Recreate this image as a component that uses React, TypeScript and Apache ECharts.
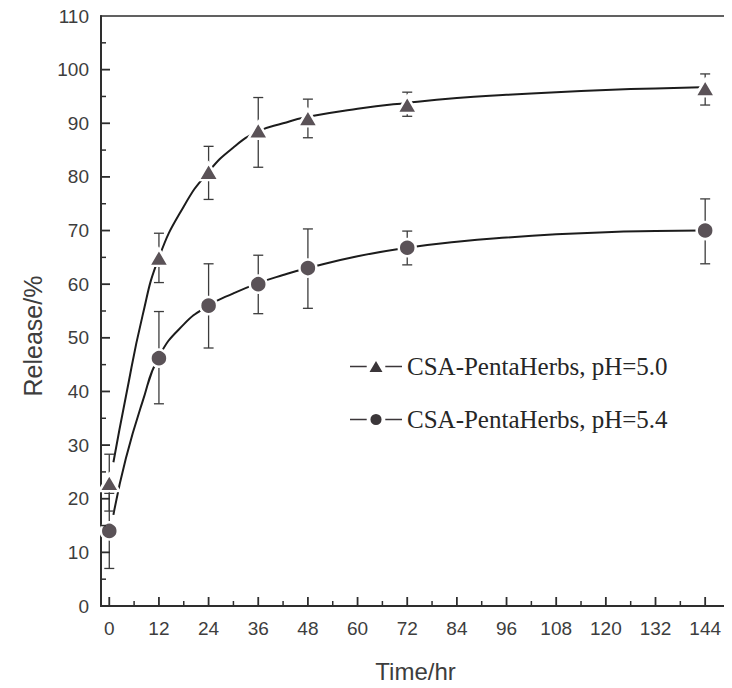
import React, { useEffect, useRef } from "react";
import * as echarts from "echarts";

// Measured points (time in hr, release in %)
const times = [0, 12, 24, 36, 48, 72, 144];
const ph50Mean = [23, 65, 81, 88.7, 91, 93.5, 96.6];
const ph50Low = [17.7, 60.3, 75.8, 81.8, 87.3, 91.3, 93.4];
const ph50High = [28.3, 69.5, 85.7, 94.8, 94.5, 95.8, 99.2];
const ph54Mean = [14, 46.2, 56, 60, 63, 66.8, 70];
const ph54Low = [7, 37.7, 48.1, 54.5, 55.5, 63.6, 63.8];
const ph54High = [21, 54.9, 63.8, 65.4, 70.3, 69.9, 75.9];

// Fitted curves
const curveX = [1, 4, 8, 12, 18, 24, 30, 36, 42, 48, 60, 72, 84, 96, 108, 120, 132, 143];
const ph50Curve = [26.8, 39, 54, 65, 74.5, 81, 85.5, 88.5, 90, 91.2, 92.7, 93.8, 94.7, 95.3, 95.8, 96.2, 96.5, 96.7];
const ph54Curve = [17, 27.5, 38, 46.5, 52.5, 56, 58.3, 60.2, 61.7, 63, 65.2, 66.8, 67.9, 68.7, 69.3, 69.7, 69.9, 70];

const xMajorTicks = [0, 12, 24, 36, 48, 60, 72, 84, 96, 108, 120, 132, 144];
const xMinorTicks = [6, 18, 30, 42, 54, 66, 78, 90, 102, 114, 126, 138];
const yMajorTicks = [10, 20, 30, 40, 50, 60, 70, 80, 90, 100];
const yMinorTicks = [5, 15, 25, 35, 45, 55, 65, 75, 85, 95, 105];
const xMin = -2;
const xMax = 150;
const yMin = 0;
const yMax = 110;
const seriesNames = ["CSA-PentaHerbs, pH=5.0", "CSA-PentaHerbs, pH=5.4"];

const markerColor = "#5a5257";
const lineColor = "#1c1c1c";
const axisColor = "#2e2e2e";
const textColor = "#3d3d3d";

const legendTriangleIcon =
  "path://M0,6.3L18,6.3L18,7.7L0,7.7Z M21,13L35,13L28,1Z M38,6.3L56,6.3L56,7.7L38,7.7Z";
const legendCircleIcon =
  "path://M0,6.3L18,6.3L18,7.7L0,7.7Z M22,7A6,6 0 1,0 34,7A6,6 0 1,0 22,7Z M38,6.3L56,6.3L56,7.7L38,7.7Z";

function errorBarSeries(low: number[], high: number[]) {
  return {
    type: "custom",
    z: 2,
    silent: true,
    data: times.map((t, i) => [t, low[i], high[i]]),
    encode: { x: 0, y: [1, 2] },
    renderItem: (params: any, api: any) => {
      const x = api.value(0);
      const pLo = api.coord([x, api.value(1)]);
      const pHi = api.coord([x, api.value(2)]);
      const w = 5;
      const style = { stroke: "#3c3c3c", lineWidth: 1.3 };
      return {
        type: "group",
        children: [
          { type: "line", shape: { x1: pHi[0], y1: pHi[1], x2: pLo[0], y2: pLo[1] }, style },
          { type: "line", shape: { x1: pHi[0] - w, y1: pHi[1], x2: pHi[0] + w, y2: pHi[1] }, style },
          { type: "line", shape: { x1: pLo[0] - w, y1: pLo[1], x2: pLo[0] + w, y2: pLo[1] }, style },
        ],
      };
    },
  };
}

// Inside tick marks placed through the axis scales
function tickSeries(values: number[], onX: boolean, len: number, width: number) {
  return {
    type: "custom",
    z: 4,
    silent: true,
    clip: false,
    data: values.map((v) => (onX ? [v, yMin] : [xMin, v])),
    encode: { x: 0, y: 1 },
    renderItem: (params: any, api: any) => {
      const p = api.coord([api.value(0), api.value(1)]);
      const shape = onX
        ? { x1: p[0], y1: p[1], x2: p[0], y2: p[1] - len }
        : { x1: p[0], y1: p[1], x2: p[0] + len, y2: p[1] };
      return { type: "line", shape, style: { stroke: axisColor, lineWidth: width } };
    },
  };
}

export default function App() {
  const ref = useRef<HTMLDivElement>(null);
  useEffect(() => {
    if (!ref.current) return;
    const chart = echarts.init(ref.current, null, { renderer: "svg" });
    chart.setOption({
      animation: false,
      backgroundColor: "#ffffff",
      grid: {
        left: 101,
        right: 2,
        top: 16,
        bottom: 79,
        show: true,
        borderColor: axisColor,
        borderWidth: 1.5,
      },
      legend: {
        orient: "vertical",
        left: 345,
        top: 349,
        itemWidth: 52,
        itemHeight: 13,
        itemGap: 28,
        data: [
          { name: seriesNames[0], icon: legendTriangleIcon, itemStyle: { color: "#3b3639" } },
          { name: seriesNames[1], icon: legendCircleIcon, itemStyle: { color: "#3b3639" } },
        ],
        textStyle: {
          fontFamily: "Liberation Serif",
          fontSize: 25,
          color: "#262626",
        },
      },
      xAxis: {
        type: "value",
        min: xMin,
        max: xMax,
        interval: 6,
        name: "Time/hr",
        nameLocation: "middle",
        nameGap: 53,
        nameTextStyle: { fontFamily: "Liberation Sans", fontSize: 24, color: textColor },
        axisLine: { show: true, lineStyle: { color: axisColor, width: 2 } },
        axisTick: { show: false },
        axisLabel: {
          fontFamily: "Liberation Sans",
          fontSize: 19,
          color: textColor,
          margin: 13,
          customValues: xMajorTicks,
        },
        splitLine: { show: false },
      },
      yAxis: {
        type: "value",
        min: yMin,
        max: yMax,
        interval: 10,
        name: "Release/%",
        nameLocation: "middle",
        nameGap: 56,
        nameTextStyle: {
          fontFamily: "Liberation Sans",
          fontSize: 25,
          color: textColor,
          padding: [0, 50, 0, 0],
        },
        axisLine: { show: true, onZero: false, lineStyle: { color: axisColor, width: 2 } },
        axisTick: { show: false },
        axisLabel: { fontFamily: "Liberation Sans", fontSize: 19, color: textColor, margin: 12 },
        splitLine: { show: false },
      },
      series: [
        {
          name: seriesNames[0],
          type: "line",
          smooth: true,
          symbol: "triangle",
          showSymbol: false,
          z: 1,
          data: curveX.map((x, i) => [x, ph50Curve[i]]),
          lineStyle: { color: lineColor, width: 2 },
          itemStyle: { color: markerColor },
        },
        {
          name: seriesNames[1],
          type: "line",
          smooth: true,
          symbol: "circle",
          showSymbol: false,
          z: 1,
          data: curveX.map((x, i) => [x, ph54Curve[i]]),
          lineStyle: { color: lineColor, width: 2 },
          itemStyle: { color: markerColor },
        },
        errorBarSeries(ph50Low, ph50High),
        errorBarSeries(ph54Low, ph54High),
        {
          name: seriesNames[0],
          type: "scatter",
          symbol: "triangle",
          symbolSize: [20, 17],
          z: 3,
          data: times.map((t, i) => [t, ph50Mean[i]]),
          itemStyle: { color: markerColor, borderColor: "#ffffff", borderWidth: 2.5, opacity: 1 },
        },
        {
          name: seriesNames[1],
          type: "scatter",
          symbol: "circle",
          symbolSize: 17,
          z: 3,
          data: times.map((t, i) => [t, ph54Mean[i]]),
          itemStyle: { color: markerColor, borderColor: "#ffffff", borderWidth: 2.5, opacity: 1 },
        },
        tickSeries(xMajorTicks, true, 9, 1.8),
        tickSeries(xMinorTicks, true, 5, 1.5),
        tickSeries(yMajorTicks, false, 9, 1.8),
        tickSeries(yMinorTicks, false, 5, 1.5),
      ],
    });
    return () => chart.dispose();
  }, []);
  return <div ref={ref} style={{ width: 732, height: 688, margin: -8 }} />;
}
